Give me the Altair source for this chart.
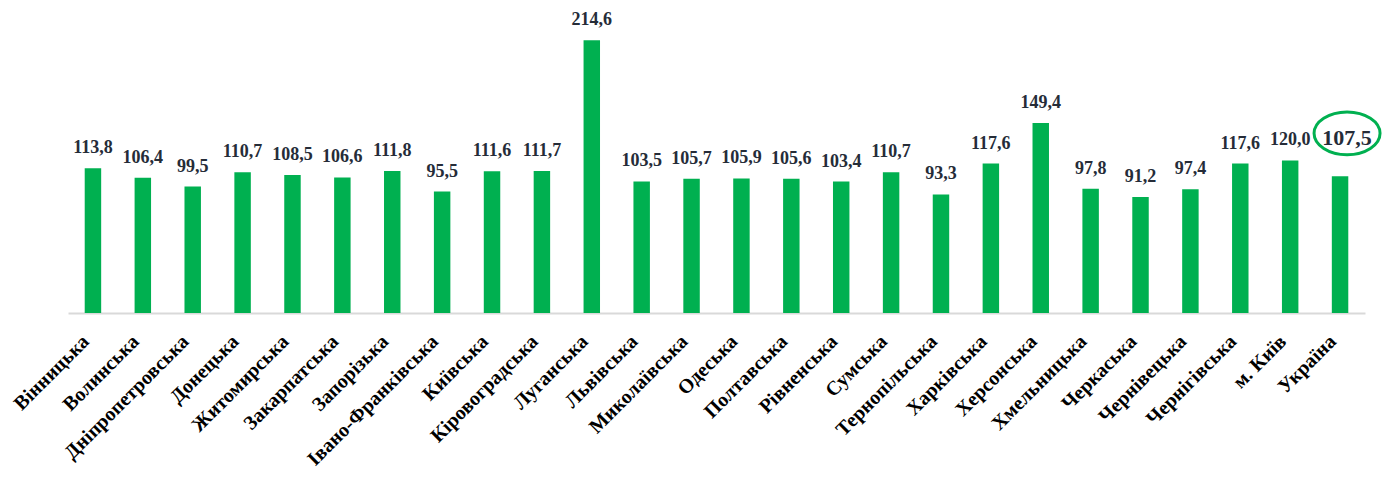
import altair as alt
import pandas as pd

regions = ["Вінницька", "Волинська", "Дніпропетровська", "Донецька", "Житомирська",
           "Закарпатська", "Запорізька", "Івано-Франківська", "Київська", "Кіровоградська",
           "Луганська", "Львівська", "Миколаївська", "Одеська", "Полтавська",
           "Рівненська", "Сумська", "Тернопільська", "Харківська", "Херсонська",
           "Хмельницька", "Черкаська", "Чернівецька", "Чернігівська", "м. Київ", "Україна"]
values = [113.8, 106.4, 99.5, 110.7, 108.5,
          106.6, 111.8, 95.5, 111.6, 111.7,
          214.6, 103.5, 105.7, 105.9, 105.6,
          103.4, 110.7, 93.3, 117.6, 149.4,
          97.8, 91.2, 97.4, 117.6, 120.0, 107.5]
labels = [f"{v:.1f}".replace(".", ",") for v in values]

df = pd.DataFrame({"region": regions, "value": values, "label": labels})

GREEN = "#00b050"
TEXT = "#252c38"
FONT = "'Liberation Serif', 'Times New Roman', 'DejaVu Serif', serif"

x = alt.X("region:N", sort=regions, title=None,
          scale=alt.Scale(paddingInner=0.67, paddingOuter=0.335),
          axis=alt.Axis(labelAngle=-45, labelAlign="right", labelBaseline="middle",
                        labelFont=FONT, labelFontWeight="bold", labelFontSize=20,
                        labelColor="black", labelPadding=25, labelOffset=-7, ticks=False,
                        domainColor="#d9d9d9", domainWidth=2, labelOverlap=False,
                        labelLimit=300))
y = alt.Y("value:Q", scale=alt.Scale(domain=[0, 236]), axis=None, title=None)

base = alt.Chart(df).encode(x=x, y=y)

bars = base.mark_bar(color=GREEN)

texts = base.transform_filter(alt.datum.region != "Україна").mark_text(
    font=FONT, fontWeight="bold", fontSize=18, color=TEXT, baseline="alphabetic", dy=-15
).encode(text="label:N")

ukr_text = base.transform_filter(alt.datum.region == "Україна").mark_text(
    font=FONT, fontWeight="bold", fontSize=22, color=TEXT, baseline="alphabetic", dy=-31, dx=7
).encode(text="label:N")

ellipse = base.transform_filter(alt.datum.region == "Україна").mark_point(
    shape="M -1 0 A 1 0.65 0 1 1 1 0 A 1 0.65 0 1 1 -1 0 Z",
    size=66 * 66, filled=False, stroke=GREEN, strokeWidth=3, opacity=1,
    xOffset=7, yOffset=-43
)

chart = alt.layer(bars, texts, ukr_text, ellipse).properties(
    width=1297, height=300,
    autosize=alt.AutoSizeParams(type="none"),
    padding={"left": 60, "top": 5, "right": 18, "bottom": 156},
).configure_view(stroke=None)

chart.save("out.html", embed_options={"renderer": "svg", "actions": False})
